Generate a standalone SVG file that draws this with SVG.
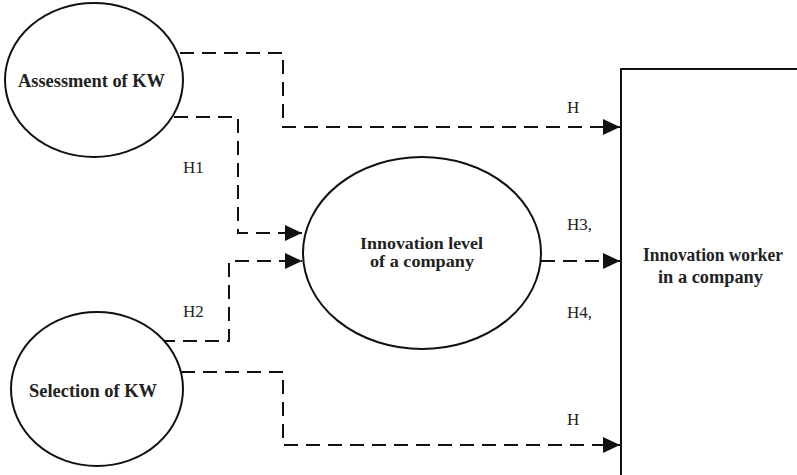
<svg xmlns="http://www.w3.org/2000/svg" width="797" height="475" viewBox="0 0 797 475">
<style>
.shape{fill:#fff;stroke:#111;stroke-width:2}
.conn{fill:none;stroke:#111;stroke-width:2;stroke-dasharray:14 8}
.bold{font-family:"Liberation Serif","Times New Roman",serif;font-weight:bold;font-size:18px;fill:#222;text-anchor:middle}
.bold2{font-size:17px}
.lbl{font-family:"Liberation Serif","Times New Roman",serif;font-size:17px;fill:#222}
</style>
<defs>
<marker id="arr" markerUnits="userSpaceOnUse" markerWidth="18" markerHeight="16" refX="17" refY="8" orient="auto">
<path d="M0,0 L17,8 L0,16 Z" fill="#111"/>
</marker>
</defs>
<rect width="797" height="475" fill="#fff"/>
<g id="connectors">
<path class="conn" d="M180,53 H283 V127 H620" marker-end="url(#arr)"/>
<path class="conn" d="M174,117 H238 V233 H302" marker-end="url(#arr)"/>
<path class="conn" d="M161,341 H229 V261 H302" marker-end="url(#arr)"/>
<path class="conn" d="M181,372 H283 V445 H620" marker-end="url(#arr)"/>
<path class="conn" d="M541,261 H620" marker-end="url(#arr)"/>
<text class="lbl" x="567" y="113">H</text>
<text class="lbl" x="183" y="173">H1</text>
<text class="lbl" x="183" y="317">H2</text>
<text class="lbl" x="567" y="230">H3,</text>
<text class="lbl" x="567" y="318">H4,</text>
<text class="lbl" x="567" y="425">H</text>
</g>
<g id="assessment">
<ellipse class="shape" cx="94" cy="80" rx="89" ry="77"/>
<text class="bold" x="91.5" y="87" textLength="147" lengthAdjust="spacingAndGlyphs">Assessment of KW</text>
</g>
<g id="selection">
<ellipse class="shape" cx="97" cy="389" rx="86" ry="77"/>
<text class="bold" x="93" y="397" textLength="128" lengthAdjust="spacingAndGlyphs">Selection of KW</text>
</g>
<g id="innovation-level">
<ellipse class="shape" cx="422" cy="253" rx="119" ry="96"/>
<text class="bold bold2" x="421.5" y="249" textLength="123" lengthAdjust="spacingAndGlyphs">Innovation level</text>
<text class="bold bold2" x="422" y="267" textLength="104" lengthAdjust="spacingAndGlyphs">of a company</text>
</g>
<g id="innovation-worker">
<rect class="shape" x="621" y="69" width="200" height="420"/>
<text class="bold" x="713" y="261" textLength="140" lengthAdjust="spacingAndGlyphs">Innovation worker</text>
<text class="bold" x="710.5" y="283" textLength="105" lengthAdjust="spacingAndGlyphs">in a company</text>
</g>
</svg>
